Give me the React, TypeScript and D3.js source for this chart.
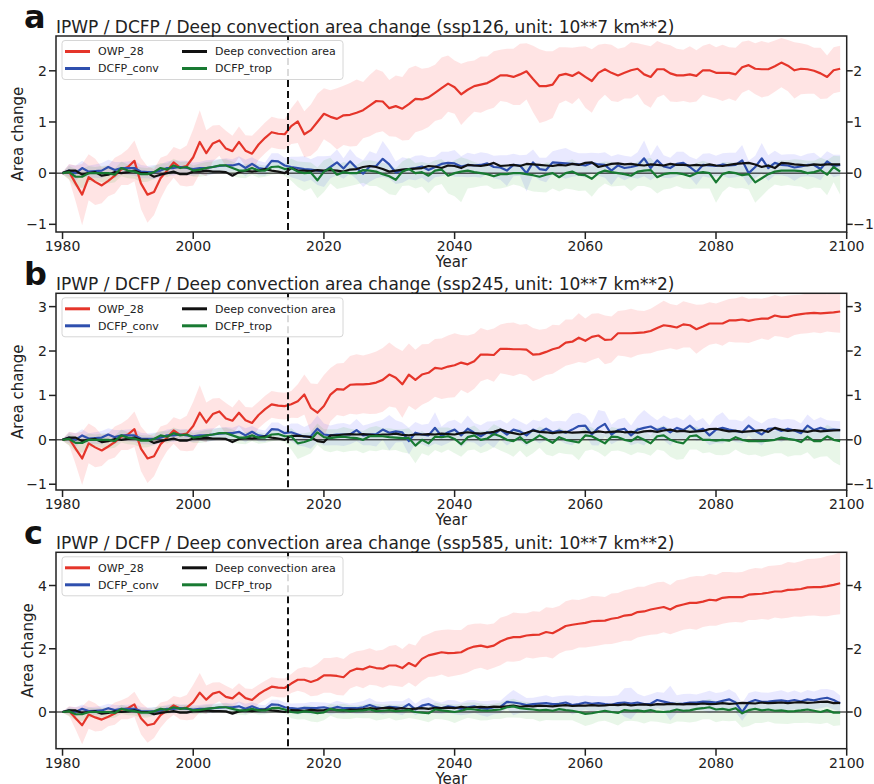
import React from 'react';
import * as d3 from 'd3';

// years 1980..2099, historical part (1980-2014) is the same in all three panels
const firstYear = 1980;
const years = d3.range(firstYear, 2100);

const seriesNames = ['OWP_28', 'DCFP_conv', 'Deep convection area', 'DCFP_trop'];
const scenarioNames = ['ssp126', 'ssp245', 'ssp585'];
const panelLetters = ['a', 'b', 'c'];
const xTicks = [1980, 2000, 2020, 2040, 2060, 2080, 2100];
const yTicksA = [-1, 0, 1, 2];
const yTicksB = [-1, 0, 1, 2, 3];
const yTicksC = [0, 2, 4];

// ---- historical 1980-2014 ----
const histOwp = [0, 0.03, -0.2, -0.42, -0.08, -0.17, -0.24, -0.15, -0.05, 0.07,
  0.12, 0.24, -0.2, -0.42, -0.37, -0.1, 0.05, 0.21, 0.11, 0.14,
  0.31, 0.61, 0.39, 0.58, 0.64, 0.48, 0.43, 0.61, 0.44, 0.38,
  0.56, 0.69, 0.8, 0.77, 0.76];
const histOwpSd = [0.02, 0.15, 0.35, 0.6, 0.45, 0.45, 0.35, 0.3, 0.35, 0.3,
  0.35, 0.4, 0.5, 0.55, 0.45, 0.4, 0.3, 0.3, 0.35, 0.4,
  0.55, 0.62, 0.45, 0.35, 0.3, 0.35, 0.3, 0.3, 0.3, 0.35,
  0.3, 0.3, 0.3, 0.3, 0.3];
const histConv = [0, 0.05, 0.0, 0.1, 0.03, 0.04, 0.05, 0.12, 0.06, 0.1,
  0.1, 0.1, 0.03, 0.02, 0.02, 0.05, 0.1, 0.1, 0.12, 0.1,
  0.08, 0.1, 0.1, 0.12, 0.14, 0.15, 0.15, 0.18, 0.1, 0.18,
  0.1, 0.08, 0.24, 0.23, 0.15];
const histConvSd = [0.02, 0.12, 0.15, 0.14, 0.12, 0.13, 0.15, 0.14, 0.16, 0.12,
  0.13, 0.15, 0.13, 0.12, 0.14, 0.12, 0.13, 0.15, 0.12, 0.14,
  0.13, 0.12, 0.15, 0.14, 0.13, 0.14, 0.12, 0.15, 0.16, 0.13,
  0.14, 0.13, 0.15, 0.16, 0.15];
const histDeep = [0.0, 0.05, 0.05, -0.03, 0.0, 0.02, -0.05, -0.03, 0.02, 0.0,
  0.02, 0.05, 0.0, 0.0, -0.07, -0.03, 0.0, 0.03, -0.02, -0.02,
  0.03, 0.03, 0.05, 0.03, 0.03, 0.02, -0.05, 0.02, 0.05, 0.03,
  0.05, 0.08, 0.05, 0.03, 0.0];
const histTrop = [0, 0.02, -0.07, -0.07, 0.0, 0.0, 0.0, 0.0, -0.03, 0.1,
  0.05, 0.03, -0.02, -0.02, 0.02, 0.1, 0.07, 0.15, 0.1, 0.12,
  0.05, 0.07, 0.1, 0.12, 0.15, 0.15, 0.1, 0.05, 0.05, 0.1,
  0.05, 0.05, 0.12, 0.13, 0.08];
// DCFP_trop spread below / above the line
const histTropLo = [0.02, 0.15, 0.2, 0.22, 0.18, 0.15, 0.18, 0.2, 0.15, 0.16,
  0.15, 0.14, 0.16, 0.15, 0.14, 0.12, 0.15, 0.16, 0.14, 0.13,
  0.12, 0.14, 0.15, 0.13, 0.14, 0.15, 0.16, 0.14, 0.15, 0.13,
  0.14, 0.12, 0.15, 0.14, 0.13];
const histTropUp = [0.02, 0.12, 0.15, 0.15, 0.14, 0.12, 0.14, 0.15, 0.12, 0.13,
  0.12, 0.12, 0.13, 0.12, 0.12, 0.1, 0.12, 0.13, 0.12, 0.11,
  0.1, 0.12, 0.12, 0.11, 0.12, 0.12, 0.13, 0.12, 0.12, 0.11,
  0.12, 0.1, 0.12, 0.12, 0.11];

// ---- ssp126, 2015-2099 ----
const owp126 = [0.92, 1.01, 0.76, 0.84, 1.0, 1.16, 1.1, 1.06, 1.13, 1.14,
  1.18, 1.23, 1.32, 1.41, 1.4, 1.27, 1.31, 1.26, 1.35, 1.45,
  1.44, 1.48, 1.57, 1.66, 1.75, 1.68, 1.54, 1.63, 1.7, 1.73,
  1.76, 1.83, 1.91, 1.91, 1.88, 1.93, 1.99, 1.84, 1.7, 1.7,
  1.73, 1.91, 1.94, 1.9, 1.97, 1.88, 1.8, 1.96, 2.03, 1.96,
  1.91, 1.96, 2.01, 2.04, 1.93, 1.88, 2.03, 2.03, 1.95, 1.91,
  1.91, 1.93, 1.9, 2.01, 2.01, 1.96, 1.96, 1.96, 1.93, 2.07,
  2.11, 2.04, 2.03, 2.03, 2.09, 2.16, 2.1, 2.01, 2.04, 2.03,
  2.0, 1.95, 1.88, 2.01, 2.04];
const owpSd126 = [0.35, 0.42, 0.45, 0.5, 0.55, 0.5, 0.52, 0.6, 0.58, 0.62,
  0.65, 0.55, 0.6, 0.62, 0.58, 0.55, 0.6, 0.62, 0.7, 0.65,
  0.6, 0.58, 0.55, 0.6, 0.55, 0.52, 0.6, 0.55, 0.5, 0.55,
  0.52, 0.55, 0.5, 0.52, 0.55, 0.6, 0.55, 0.65, 0.72, 0.68,
  0.65, 0.55, 0.52, 0.55, 0.5, 0.6, 0.62, 0.55, 0.5, 0.55,
  0.52, 0.5, 0.55, 0.5, 0.58, 0.6, 0.55, 0.5, 0.55, 0.52,
  0.5, 0.55, 0.5, 0.48, 0.52, 0.5, 0.55, 0.5, 0.52, 0.5,
  0.48, 0.5, 0.55, 0.52, 0.5, 0.48, 0.5, 0.55, 0.5, 0.48,
  0.45, 0.5, 0.42, 0.45, 0.45];
const conv126 = [0.12, 0.1, 0.08, 0.07, 0.05, 0.03, 0.12, 0.21, 0.09, 0.23,
  0.1, -0.01, 0.13, 0.14, 0.28, 0.17, 0.01, 0.06, 0.08, 0.1,
  0.13, 0.06, 0.12, 0.18, 0.2, 0.19, 0.13, 0.16, 0.15, 0.16,
  0.19, 0.12, 0.11, 0.05, 0.16, 0.15, 0.0, 0.21, 0.08, 0.06,
  0.21, 0.2, 0.19, 0.18, 0.17, 0.15, 0.2, 0.17, 0.16, 0.05,
  0.15, 0.1, 0.12, 0.15, 0.29, 0.1, 0.25, 0.13, 0.1, 0.18,
  0.2, 0.12, 0.02, 0.16, 0.15, 0.14, 0.17, 0.15, 0.16, 0.25,
  0.0, 0.12, 0.29, 0.1, 0.2, 0.16, 0.15, 0.11, 0.13, 0.16,
  0.16, 0.08, 0.23, 0.14, 0.16];
const convSd126 = [0.2, 0.22, 0.25, 0.2, 0.28, 0.3, 0.22, 0.25, 0.2, 0.24,
  0.22, 0.26, 0.3, 0.24, 0.35, 0.28, 0.22, 0.25, 0.2, 0.24,
  0.22, 0.25, 0.2, 0.24, 0.22, 0.26, 0.2, 0.24, 0.22, 0.25,
  0.2, 0.22, 0.24, 0.3, 0.22, 0.2, 0.36, 0.25, 0.22, 0.24,
  0.22, 0.26, 0.3, 0.25, 0.22, 0.24, 0.2, 0.22, 0.25, 0.28,
  0.22, 0.24, 0.2, 0.26, 0.35, 0.24, 0.3, 0.22, 0.2, 0.24,
  0.22, 0.2, 0.25, 0.22, 0.24, 0.2, 0.22, 0.25, 0.24, 0.3,
  0.24, 0.22, 0.3, 0.25, 0.24, 0.2, 0.22, 0.26, 0.2, 0.22,
  0.24, 0.22, 0.2, 0.22, 0.2];
const deep126 = [0.1, 0.05, 0.05, 0.04, 0.06, 0.05, 0.06, 0.05, 0.03, 0.07,
  0.08, 0.12, 0.14, 0.12, 0.08, 0.03, 0.05, 0.07, 0.08, 0.09,
  0.1, 0.14, 0.13, 0.1, 0.15, 0.14, 0.1, 0.16, 0.15, 0.14,
  0.16, 0.2, 0.14, 0.15, 0.16, 0.14, 0.18, 0.17, 0.16, 0.15,
  0.14, 0.16, 0.15, 0.18, 0.16, 0.2, 0.21, 0.12, 0.15, 0.18,
  0.19, 0.17, 0.18, 0.16, 0.15, 0.17, 0.16, 0.15, 0.18, 0.16,
  0.16, 0.15, 0.16, 0.15, 0.17, 0.15, 0.14, 0.16, 0.18, 0.19,
  0.2, 0.17, 0.12, 0.15, 0.1, 0.2, 0.19, 0.17, 0.16, 0.15,
  0.17, 0.16, 0.17, 0.17, 0.17];
const trop126 = [0.1, 0.03, 0.0, 0.01, -0.14, 0.03, 0.1, -0.03, 0.02, 0.0,
  0.0, 0.06, 0.05, 0.03, -0.02, -0.06, -0.13, 0.03, 0.08, 0.0,
  0.02, -0.05, 0.05, 0.07, -0.05, 0.0, 0.03, 0.05, 0.02, 0.0,
  -0.02, -0.06, -0.02, -0.02, 0.0, 0.0, -0.02, -0.04, -0.07, -0.03,
  0.0, -0.08, 0.0, 0.03, -0.03, -0.04, -0.11, 0.0, 0.05, 0.02,
  0.0, -0.02, -0.05, 0.03, 0.05, 0.06, -0.08, -0.02, 0.0, 0.0,
  -0.02, -0.06, 0.0, 0.02, 0.0, -0.18, -0.02, 0.02, 0.0, -0.04,
  -0.02, -0.18, -0.1, -0.02, 0.03, 0.05, 0.05, 0.05, 0.04, 0.0,
  0.02, 0.06, -0.03, 0.12, 0.03];
const tropLo126 = [0.25, 0.3, 0.35, 0.3, 0.35, 0.4, 0.3, 0.28, 0.3, 0.25,
  0.22, 0.25, 0.3, 0.28, 0.3, 0.35, 0.3, 0.28, 0.32, 0.3,
  0.28, 0.35, 0.3, 0.28, 0.35, 0.45, 0.6, 0.35, 0.3, 0.25,
  0.22, 0.25, 0.28, 0.25, 0.22, 0.25, 0.3, 0.32, 0.3, 0.35,
  0.3, 0.28, 0.3, 0.35, 0.32, 0.3, 0.35, 0.3, 0.25, 0.28,
  0.25, 0.22, 0.3, 0.28, 0.3, 0.35, 0.32, 0.3, 0.3, 0.25,
  0.28, 0.25, 0.3, 0.32, 0.3, 0.4, 0.35, 0.28, 0.3, 0.25,
  0.3, 0.4, 0.35, 0.3, 0.25, 0.3, 0.28, 0.3, 0.3, 0.32,
  0.3, 0.35, 0.4, 0.3, 0.45];
const tropUp126 = [0.18, 0.2, 0.22, 0.2, 0.25, 0.22, 0.2, 0.18, 0.2, 0.18,
  0.16, 0.18, 0.2, 0.2, 0.22, 0.24, 0.22, 0.2, 0.22, 0.2,
  0.2, 0.24, 0.2, 0.2, 0.22, 0.25, 0.28, 0.22, 0.2, 0.18,
  0.16, 0.18, 0.2, 0.18, 0.16, 0.18, 0.2, 0.22, 0.2, 0.24,
  0.2, 0.2, 0.22, 0.24, 0.22, 0.2, 0.24, 0.2, 0.18, 0.2,
  0.18, 0.16, 0.2, 0.2, 0.22, 0.24, 0.22, 0.2, 0.2, 0.18,
  0.2, 0.18, 0.2, 0.22, 0.2, 0.28, 0.24, 0.2, 0.2, 0.18,
  0.2, 0.28, 0.24, 0.2, 0.18, 0.2, 0.2, 0.22, 0.22, 0.24,
  0.22, 0.24, 0.28, 0.22, 0.3];

// ---- ssp245, 2015-2099 ----
const owp245 = [0.8, 0.87, 1.02, 0.72, 0.61, 0.76, 1.02, 1.14, 1.13, 1.24,
  1.25, 1.25, 1.26, 1.29, 1.35, 1.47, 1.4, 1.25, 1.47, 1.35,
  1.47, 1.51, 1.62, 1.6, 1.65, 1.68, 1.74, 1.7, 1.77, 1.92,
  1.92, 1.91, 2.05, 2.05, 2.04, 2.04, 2.03, 1.92, 1.93, 1.98,
  2.04, 2.08, 2.19, 2.21, 2.3, 2.23, 2.32, 2.35, 2.25, 2.26,
  2.4, 2.4, 2.4, 2.41, 2.42, 2.45, 2.52, 2.58, 2.56, 2.53,
  2.6, 2.58, 2.49, 2.55, 2.62, 2.62, 2.62, 2.69, 2.69, 2.71,
  2.68, 2.71, 2.73, 2.73, 2.8, 2.77, 2.77, 2.81, 2.83, 2.85,
  2.86, 2.85, 2.86, 2.87, 2.89];
const owpSd245 = [0.3, 0.38, 0.45, 0.55, 0.65, 0.7, 0.6, 0.58, 0.6, 0.65,
  0.68, 0.65, 0.68, 0.7, 0.72, 0.72, 0.68, 0.75, 0.7, 0.68,
  0.68, 0.65, 0.65, 0.68, 0.7, 0.72, 0.62, 0.65, 0.62, 0.6,
  0.55, 0.6, 0.55, 0.58, 0.6, 0.55, 0.58, 0.6, 0.55, 0.52,
  0.55, 0.5, 0.52, 0.5, 0.55, 0.5, 0.52, 0.5, 0.55, 0.52,
  0.5, 0.52, 0.55, 0.5, 0.48, 0.5, 0.52, 0.55, 0.5, 0.5,
  0.52, 0.5, 0.55, 0.5, 0.48, 0.45, 0.5, 0.48, 0.5, 0.52,
  0.5, 0.48, 0.45, 0.48, 0.46, 0.45, 0.48, 0.45, 0.44, 0.45,
  0.44, 0.45, 0.42, 0.45, 0.48];
const conv245 = [0.17, 0.12, 0.07, 0.08, 0.25, 0.12, 0.1, 0.12, 0.12, 0.12,
  0.22, 0.1, 0.12, 0.13, 0.23, 0.16, 0.19, 0.17, -0.03, 0.16,
  0.12, 0.1, 0.27, 0.08, 0.17, 0.23, 0.1, 0.25, 0.16, 0.08,
  0.17, 0.12, 0.23, 0.12, 0.23, 0.19, 0.1, 0.23, 0.17, 0.25,
  0.17, 0.21, 0.16, 0.23, 0.31, 0.32, 0.12, 0.27, 0.36, 0.12,
  0.22, 0.25, 0.1, 0.23, 0.27, 0.3, 0.22, 0.27, 0.17, 0.27,
  0.22, 0.32, 0.2, 0.25, 0.1, 0.23, 0.27, 0.23, 0.2, 0.17,
  0.32, 0.2, 0.12, 0.25, 0.26, 0.2, 0.25, 0.21, 0.15, 0.32,
  0.22, 0.27, 0.22, 0.23, 0.22];
const convSd245 = [0.2, 0.25, 0.22, 0.28, 0.3, 0.25, 0.22, 0.24, 0.26, 0.22,
  0.25, 0.22, 0.24, 0.28, 0.22, 0.4, 0.25, 0.22, 0.3, 0.24,
  0.22, 0.26, 0.35, 0.22, 0.24, 0.22, 0.26, 0.3, 0.22, 0.25,
  0.24, 0.3, 0.22, 0.25, 0.26, 0.22, 0.24, 0.22, 0.25, 0.26,
  0.24, 0.22, 0.25, 0.35, 0.3, 0.22, 0.24, 0.4, 0.28, 0.22,
  0.24, 0.25, 0.22, 0.3, 0.4, 0.25, 0.22, 0.28, 0.3, 0.24,
  0.22, 0.25, 0.22, 0.24, 0.22, 0.3, 0.35, 0.22, 0.25, 0.24,
  0.22, 0.24, 0.25, 0.22, 0.24, 0.25, 0.22, 0.24, 0.22, 0.25,
  0.22, 0.24, 0.22, 0.2, 0.2];
const deep245 = [0.09, 0.09, 0.08, 0.06, -0.03, -0.05, 0.1, 0.1, 0.12, 0.13,
  0.12, 0.13, 0.12, 0.1, 0.12, 0.12, 0.14, 0.11, 0.1, 0.12,
  0.12, 0.13, 0.12, 0.14, 0.13, 0.12, 0.15, 0.17, 0.15, 0.14,
  0.16, 0.18, 0.23, 0.18, 0.15, 0.12, 0.16, 0.21, 0.18, 0.17,
  0.15, 0.17, 0.18, 0.16, 0.17, 0.18, 0.16, 0.19, 0.17, 0.18,
  0.19, 0.17, 0.18, 0.16, 0.19, 0.2, 0.18, 0.21, 0.23, 0.19,
  0.2, 0.18, 0.19, 0.2, 0.24, 0.25, 0.22, 0.19, 0.2, 0.18,
  0.19, 0.2, 0.22, 0.18, 0.27, 0.23, 0.2, 0.22, 0.2, 0.18,
  0.21, 0.19, 0.2, 0.21, 0.22];
const trop245 = [0.08, -0.08, -0.05, 0.0, 0.17, 0.06, 0.04, 0.06, 0.07, 0.05,
  0.04, 0.0, 0.08, 0.09, 0.08, 0.06, 0.05, 0.04, 0.04, -0.13,
  0.0, -0.08, 0.07, 0.06, 0.08, 0.02, -0.1, 0.06, 0.1, 0.0,
  0.03, 0.13, 0.08, 0.0, -0.03, 0.06, -0.07, 0.0, 0.1, 0.02,
  -0.07, 0.06, 0.0, -0.03, -0.06, 0.1, 0.08, 0.0, -0.08, 0.07,
  0.06, 0.0, -0.03, 0.07, 0.0, -0.08, 0.08, 0.1, 0.0, -0.05,
  -0.08, 0.08, 0.1, 0.0, 0.0, -0.02, 0.0, -0.02, 0.06, 0.0,
  -0.03, -0.03, -0.03, -0.02, 0.0, 0.05, 0.02, 0.0, -0.05, 0.07,
  -0.03, -0.03, 0.08, 0.0, -0.03];
const tropLo245 = [0.3, 0.35, 0.32, 0.3, 0.28, 0.3, 0.32, 0.3, 0.35, 0.3,
  0.28, 0.3, 0.32, 0.35, 0.3, 0.3, 0.28, 0.32, 0.35, 0.4,
  0.3, 0.28, 0.3, 0.35, 0.3, 0.32, 0.28, 0.3, 0.32, 0.3,
  0.28, 0.3, 0.32, 0.3, 0.35, 0.3, 0.32, 0.3, 0.28, 0.35,
  0.3, 0.35, 0.32, 0.3, 0.4, 0.35, 0.3, 0.28, 0.3, 0.32,
  0.3, 0.28, 0.32, 0.35, 0.3, 0.28, 0.3, 0.35, 0.38, 0.4,
  0.35, 0.3, 0.32, 0.3, 0.28, 0.32, 0.35, 0.3, 0.28, 0.3,
  0.32, 0.3, 0.35, 0.32, 0.3, 0.35, 0.4, 0.35, 0.3, 0.35,
  0.4, 0.35, 0.45, 0.5, 0.55];
const tropUp245 = [0.18, 0.22, 0.2, 0.18, 0.2, 0.18, 0.2, 0.18, 0.22, 0.2,
  0.18, 0.2, 0.2, 0.22, 0.18, 0.2, 0.18, 0.2, 0.22, 0.24,
  0.2, 0.18, 0.2, 0.22, 0.2, 0.2, 0.18, 0.2, 0.22, 0.2,
  0.18, 0.22, 0.2, 0.2, 0.22, 0.2, 0.2, 0.18, 0.2, 0.22,
  0.2, 0.22, 0.2, 0.2, 0.24, 0.22, 0.2, 0.18, 0.2, 0.22,
  0.2, 0.18, 0.2, 0.22, 0.2, 0.18, 0.2, 0.22, 0.24, 0.24,
  0.22, 0.2, 0.2, 0.2, 0.18, 0.2, 0.22, 0.2, 0.18, 0.2,
  0.2, 0.2, 0.22, 0.2, 0.2, 0.22, 0.24, 0.22, 0.2, 0.22,
  0.24, 0.22, 0.26, 0.26, 0.28];

// ---- ssp585, 2015-2099 ----
const owp585 = [0.9, 1.02, 1.02, 0.95, 1.02, 1.16, 1.16, 1.14, 1.1, 1.29,
  1.37, 1.35, 1.44, 1.39, 1.37, 1.47, 1.47, 1.39, 1.55, 1.45,
  1.68, 1.79, 1.84, 1.89, 1.86, 1.87, 1.89, 2.0, 2.07, 2.1,
  2.05, 2.1, 2.23, 2.32, 2.37, 2.37, 2.42, 2.44, 2.45, 2.53,
  2.49, 2.6, 2.72, 2.76, 2.79, 2.82, 2.87, 2.88, 2.89, 2.95,
  2.98, 3.05, 3.07, 3.16, 3.18, 3.24, 3.28, 3.32, 3.24, 3.35,
  3.4, 3.45, 3.45, 3.49, 3.55, 3.53, 3.61, 3.63, 3.63, 3.63,
  3.71, 3.73, 3.74, 3.77, 3.81, 3.81, 3.86, 3.87, 3.89, 3.94,
  3.95, 3.95, 3.98, 4.02, 4.07];
const owpSd585 = [0.3, 0.35, 0.4, 0.45, 0.5, 0.55, 0.55, 0.6, 0.58, 0.55,
  0.55, 0.6, 0.58, 0.55, 0.6, 0.62, 0.65, 0.6, 0.62, 0.65,
  0.7, 0.68, 0.72, 0.7, 0.75, 0.72, 0.7, 0.75, 0.72, 0.7,
  0.72, 0.7, 0.75, 0.72, 0.78, 0.75, 0.7, 0.75, 0.72, 0.78,
  0.8, 0.75, 0.78, 0.8, 0.75, 0.78, 0.8, 0.78, 0.75, 0.8,
  0.78, 0.8, 0.82, 0.8, 0.78, 0.8, 0.82, 0.8, 0.78, 0.82,
  0.8, 0.82, 0.85, 0.8, 0.82, 0.8, 0.82, 0.8, 0.78, 0.8,
  0.8, 0.82, 0.8, 0.85, 0.82, 0.85, 0.88, 0.85, 0.88, 0.9,
  0.9, 0.92, 0.95, 0.95, 0.98];
const conv585 = [0.12, 0.1, 0.13, 0.12, 0.13, 0.15, 0.1, 0.16, 0.12, 0.12,
  0.12, 0.15, 0.22, 0.15, 0.12, 0.16, 0.15, 0.12, 0.25, 0.08,
  0.2, 0.25, 0.16, 0.12, 0.18, 0.15, 0.1, 0.15, 0.18, 0.12,
  0.1, 0.15, 0.16, 0.32, 0.3, 0.27, 0.22, 0.25, 0.27, 0.28,
  0.25, 0.26, 0.3, 0.22, 0.25, 0.3, 0.26, 0.28, 0.25, 0.23,
  0.28, 0.3, 0.27, 0.3, 0.25, 0.26, 0.38, 0.33, 0.28, 0.25,
  0.27, 0.3, 0.3, 0.33, 0.32, 0.3, 0.35, 0.4, 0.3, 0.0,
  0.3, 0.38, 0.32, 0.33, 0.35, 0.37, 0.34, 0.38, 0.33, 0.4,
  0.37, 0.42, 0.45, 0.38, 0.27];
const convSd585 = [0.15, 0.18, 0.15, 0.2, 0.18, 0.15, 0.18, 0.2, 0.18, 0.15,
  0.18, 0.2, 0.22, 0.18, 0.2, 0.18, 0.2, 0.22, 0.2, 0.18,
  0.2, 0.22, 0.2, 0.18, 0.2, 0.22, 0.2, 0.22, 0.2, 0.22,
  0.25, 0.22, 0.2, 0.22, 0.4, 0.3, 0.22, 0.2, 0.22, 0.25,
  0.22, 0.25, 0.22, 0.3, 0.25, 0.22, 0.25, 0.22, 0.25, 0.28,
  0.25, 0.45, 0.5, 0.28, 0.25, 0.3, 0.25, 0.28, 0.55, 0.28,
  0.3, 0.28, 0.25, 0.28, 0.35, 0.3, 0.28, 0.32, 0.3, 0.28,
  0.3, 0.28, 0.3, 0.28, 0.3, 0.32, 0.28, 0.3, 0.28, 0.3,
  0.28, 0.3, 0.28, 0.3, 0.25];
const deep585 = [0.06, 0.05, 0.04, 0.07, 0.05, 0.06, 0.08, 0.07, 0.05, 0.08,
  0.07, 0.09, 0.12, 0.1, 0.12, 0.14, 0.1, 0.12, 0.09, 0.11,
  0.12, 0.1, 0.13, 0.12, 0.14, 0.12, 0.16, 0.13, 0.15, 0.16,
  0.15, 0.17, 0.16, 0.18, 0.2, 0.16, 0.19, 0.18, 0.2, 0.19,
  0.18, 0.2, 0.22, 0.19, 0.2, 0.2, 0.22, 0.2, 0.21, 0.23,
  0.22, 0.24, 0.21, 0.23, 0.24, 0.22, 0.25, 0.24, 0.26, 0.25,
  0.24, 0.26, 0.25, 0.27, 0.25, 0.26, 0.28, 0.26, 0.27, 0.29,
  0.28, 0.27, 0.3, 0.28, 0.29, 0.3, 0.28, 0.3, 0.31, 0.29,
  0.3, 0.32, 0.33, 0.28, 0.29];
const trop585 = [0.0, -0.02, 0.02, 0.0, -0.04, -0.01, 0.1, 0.05, 0.06, 0.03,
  0.04, 0.05, 0.08, 0.03, 0.04, 0.06, 0.03, 0.04, 0.06, 0.0,
  -0.02, -0.04, 0.08, 0.05, 0.03, 0.0, 0.04, 0.1, 0.08, 0.05,
  0.04, 0.06, 0.08, 0.15, 0.18, 0.12, 0.1, 0.08, 0.05, 0.07,
  0.04, 0.09, 0.06, 0.04, 0.0, -0.06, -0.04, 0.0, 0.04, 0.0,
  -0.03, 0.06, 0.04, 0.05, 0.02, 0.06, 0.01, 0.0, 0.02, 0.08,
  0.04, 0.05, 0.1, 0.12, 0.15, 0.08, 0.1, 0.06, 0.12, -0.04,
  0.06, 0.1, 0.05, 0.08, 0.04, 0.05, 0.02, 0.03, 0.05, 0.08,
  0.04, 0.0, 0.06, -0.02, -0.02];
const tropLo585 = [0.2, 0.22, 0.25, 0.3, 0.28, 0.25, 0.22, 0.25, 0.28, 0.25,
  0.22, 0.25, 0.28, 0.3, 0.28, 0.25, 0.3, 0.28, 0.25, 0.22,
  0.25, 0.28, 0.3, 0.28, 0.3, 0.35, 0.3, 0.28, 0.3, 0.32,
  0.3, 0.28, 0.3, 0.32, 0.35, 0.3, 0.32, 0.3, 0.35, 0.32,
  0.3, 0.35, 0.32, 0.3, 0.35, 0.38, 0.35, 0.3, 0.32, 0.35,
  0.4, 0.35, 0.32, 0.35, 0.38, 0.35, 0.32, 0.35, 0.4, 0.38,
  0.35, 0.38, 0.4, 0.35, 0.38, 0.4, 0.38, 0.35, 0.4, 0.45,
  0.5, 0.45, 0.4, 0.38, 0.4, 0.42, 0.4, 0.38, 0.4, 0.42,
  0.4, 0.38, 0.4, 0.42, 0.4];
const tropUp585 = [0.15, 0.16, 0.18, 0.2, 0.18, 0.16, 0.15, 0.18, 0.2, 0.18,
  0.16, 0.18, 0.2, 0.22, 0.2, 0.18, 0.2, 0.2, 0.18, 0.16,
  0.18, 0.2, 0.22, 0.2, 0.22, 0.24, 0.22, 0.2, 0.22, 0.22,
  0.2, 0.2, 0.22, 0.22, 0.24, 0.22, 0.22, 0.2, 0.24, 0.22,
  0.2, 0.24, 0.22, 0.2, 0.24, 0.26, 0.24, 0.22, 0.22, 0.24,
  0.26, 0.24, 0.22, 0.24, 0.26, 0.24, 0.22, 0.24, 0.26, 0.26,
  0.24, 0.26, 0.26, 0.24, 0.26, 0.26, 0.26, 0.24, 0.26, 0.28,
  0.3, 0.28, 0.26, 0.26, 0.26, 0.28, 0.26, 0.26, 0.26, 0.28,
  0.26, 0.26, 0.28, 0.28, 0.28];

const futureOwp = [owp126, owp245, owp585];
const futureOwpSd = [owpSd126, owpSd245, owpSd585];
const futureConv = [conv126, conv245, conv585];
const futureConvSd = [convSd126, convSd245, convSd585];
const futureDeep = [deep126, deep245, deep585];
const futureTrop = [trop126, trop245, trop585];
const futureTropLo = [tropLo126, tropLo245, tropLo585];
const futureTropUp = [tropUp126, tropUp245, tropUp585];
const yTickSets = [yTicksA, yTicksB, yTicksC];

const colors = ['#e5352a', '#2f4fae', '#111111', '#187a32'];
const bandColors = ['#ff3030', '#3535ff', '#22aa22'];
const font = 'DejaVu Sans, sans-serif';

const W = 874;
const H = 784;
const LEFT = 56;
const RIGHT = 846.7;
// vertical frame of each panel and y limits
const frames = [
  { top: 36, bottom: 232, domain: [-1.15, 2.68], ylabelX: 23 },
  { top: 293.3, bottom: 490, domain: [-1.13, 3.3], ylabelX: 23 },
  { top: 552.3, bottom: 748.7, domain: [-1.16, 5.05], ylabelX: 33 },
];

type Row = { yr: number; v: number; lo: number; up: number };

function fmt(v: number) {
  return v < 0 ? '\u2212' + Math.abs(v) : String(v);
}

function rows(hist: number[], fut: number[], loH?: number[], loF?: number[], upH?: number[], upF?: number[]): Row[] {
  const vals = hist.concat(fut);
  const lo = loH && loF ? loH.concat(loF) : null;
  const up = upH && upF ? upH.concat(upF) : lo;
  return years
    .map((yr, i) => ({ yr, v: vals[i], lo: lo ? lo[i] : 0, up: up ? up[i] : 0 }))
    .filter(d => d.v !== undefined);
}

function Panel({ idx }: { idx: number }) {
  const fr = frames[idx];
  const x = d3.scaleLinear().domain([1979, 2100]).range([LEFT, RIGHT]);
  const y = d3.scaleLinear().domain(fr.domain).range([fr.bottom, fr.top]);

  const owp = rows(histOwp, futureOwp[idx], histOwpSd, futureOwpSd[idx]);
  const conv = rows(histConv, futureConv[idx], histConvSd, futureConvSd[idx]);
  const deep = rows(histDeep, futureDeep[idx]);
  const trop = rows(histTrop, futureTrop[idx], histTropLo, futureTropLo[idx], histTropUp, futureTropUp[idx]);

  const area = d3.area<Row>()
    .x(d => x(d.yr))
    .y0(d => y(d.v - d.lo))
    .y1(d => y(d.v + d.up));
  const line = d3.line<Row>()
    .x(d => x(d.yr))
    .y(d => y(d.v));

  const clipId = 'clip-' + idx;
  const ticks = yTickSets[idx];
  const legTop = fr.top + 4.5;
  const legCols = [[65, 98], [182, 215]];

  return (
    <g>
      <defs>
        <clipPath id={clipId}>
          <rect x={LEFT} y={fr.top} width={RIGHT - LEFT} height={fr.bottom - fr.top} />
        </clipPath>
      </defs>

      <g clipPath={`url(#${clipId})`}>
        <path d={area(owp) || ''} fill={bandColors[0]} fillOpacity={0.13} />
        <path d={area(conv) || ''} fill={bandColors[1]} fillOpacity={0.11} />
        <path d={area(trop) || ''} fill={bandColors[2]} fillOpacity={0.1} />
        <line x1={LEFT} x2={RIGHT} y1={y(0)} y2={y(0)} stroke="#000" strokeWidth={1} />
        <path d={line(owp) || ''} fill="none" stroke={colors[0]} strokeWidth={2.2} strokeLinejoin="round" />
        <path d={line(conv) || ''} fill="none" stroke={colors[1]} strokeWidth={2.2} strokeLinejoin="round" />
        <path d={line(deep) || ''} fill="none" stroke={colors[2]} strokeWidth={2.2} strokeLinejoin="round" />
        <path d={line(trop) || ''} fill="none" stroke={colors[3]} strokeWidth={2.2} strokeLinejoin="round" />
        <line x1={x(2014.5)} x2={x(2014.5)} y1={fr.top} y2={fr.bottom}
          stroke="#111" strokeWidth={2} strokeDasharray="7,4" />
      </g>

      {/* frame */}
      <rect x={LEFT} y={fr.top} width={RIGHT - LEFT} height={fr.bottom - fr.top}
        fill="none" stroke="#222" strokeWidth={1.5} />

      {/* x axis */}
      {xTicks.map(t => (
        <g key={'x' + t}>
          <line x1={x(t)} x2={x(t)} y1={fr.bottom} y2={fr.bottom + 7} stroke="#222" strokeWidth={1.5} />
          <text x={x(t)} y={fr.bottom + 19} textAnchor="middle" fontSize={14} fontFamily={font} fill="#222">{t}</text>
        </g>
      ))}
      <text x={(LEFT + RIGHT) / 2} y={fr.bottom + 35} textAnchor="middle" fontSize={15} fontFamily={font} fill="#222">Year</text>

      {/* y axes, left and right */}
      {ticks.map(t => (
        <g key={'y' + t}>
          <line x1={LEFT - 7} x2={LEFT} y1={y(t)} y2={y(t)} stroke="#222" strokeWidth={1.5} />
          <text x={LEFT - 9} y={y(t)} dy="0.36em" textAnchor="end" fontSize={14} fontFamily={font} fill="#222">{fmt(t)}</text>
          <line x1={RIGHT} x2={RIGHT + 6} y1={y(t)} y2={y(t)} stroke="#222" strokeWidth={1.5} />
          <text x={RIGHT + 6.5} y={y(t)} dy="0.36em" textAnchor="start" fontSize={14} fontFamily={font} fill="#222">{fmt(t)}</text>
        </g>
      ))}
      <text transform={`translate(${fr.ylabelX},${(fr.top + fr.bottom) / 2}) rotate(-90)`}
        textAnchor="middle" fontSize={15} fontFamily={font} fill="#222">Area change</text>

      {/* title and panel letter */}
      <text x={LEFT} y={fr.top - 3} fontSize={17} fontFamily={font} fill="#222">
        {`IPWP / DCFP / Deep convection area change (${scenarioNames[idx]}, unit: 10**7 km**2)`}
      </text>
      <text x={24} y={fr.top - 8.5} fontSize={32} fontWeight="bold" fontFamily={font} fill="#111">{panelLetters[idx]}</text>

      {/* legend */}
      <rect x={62} y={legTop} width={281} height={39} rx={3} fill="#fff" fillOpacity={0.85}
        stroke="#d6d6d6" strokeWidth={1} />
      {seriesNames.map((name, i) => {
        const col = legCols[Math.floor(i / 2)];
        const cy = legTop + 11 + (i % 2) * 17;
        return (
          <g key={name}>
            <line x1={col[0]} x2={col[0] + 25} y1={cy} y2={cy} stroke={colors[i]} strokeWidth={3} />
            <text x={col[1]} y={cy} dy="0.36em" fontSize={11} fontFamily={font} fill="#222">{name}</text>
          </g>
        );
      })}
    </g>
  );
}

export default function App() {
  return (
    <svg width={W} height={H} style={{ position: 'absolute', left: 0, top: 0, background: '#fff' }}>
      {frames.map((_, i) => <Panel key={i} idx={i} />)}
    </svg>
  );
}
